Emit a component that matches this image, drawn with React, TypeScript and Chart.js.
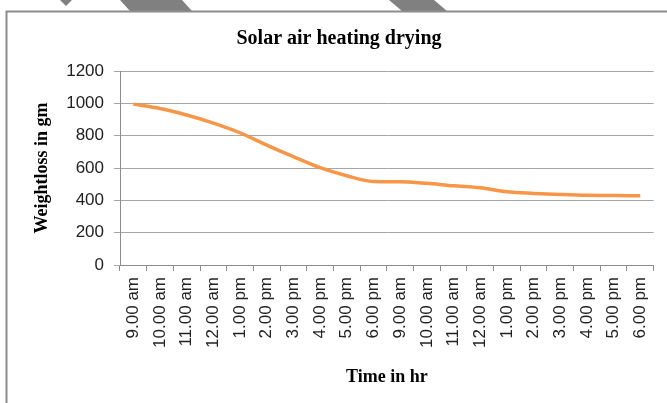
import React, { useEffect, useRef } from "react";
import { Chart, registerables } from "chart.js";

Chart.register(...registerables);

const categories = [
  "9.00 am", "10.00 am", "11.00 am", "12.00 am", "1.00 pm", "2.00 pm", "3.00 pm", "4.00 pm", "5.00 pm", "6.00 pm",
  "9.00 am", "10.00 am", "11.00 am", "12.00 am", "1.00 pm", "2.00 pm", "3.00 pm", "4.00 pm", "5.00 pm", "6.00 pm",
];
const weightLoss = [995, 968, 928, 878, 818, 742, 670, 602, 552, 517, 515, 505, 490, 478, 453, 443, 436, 431, 430, 428];
const yTicks = { min: 0, max: 1200, step: 200 };
const chartTitle = "Solar air heating drying";
const yTitle = "Weightloss in gm";
const xTitle = "Time in hr";

const framePlugin = {
  id: "frame",
  beforeDraw(chart: any) {
    const ctx = chart.ctx;
    ctx.save();
    ctx.fillStyle = "#ffffff";
    ctx.fillRect(0, 0, chart.width, chart.height);
    ctx.fillStyle = "#808080";
    ctx.beginPath();
    ctx.moveTo(60, 0); ctx.lineTo(72, 0); ctx.lineTo(66, 6); ctx.closePath(); ctx.fill();
    ctx.beginPath();
    ctx.moveTo(120, 0); ctx.lineTo(182, 0); ctx.lineTo(192, 11); ctx.lineTo(130, 11); ctx.closePath(); ctx.fill();
    ctx.beginPath();
    ctx.moveTo(389, 0); ctx.lineTo(434, 0); ctx.lineTo(447, 11); ctx.lineTo(402, 11); ctx.closePath(); ctx.fill();
    ctx.strokeStyle = "#8c8c8c";
    ctx.lineWidth = 2;
    ctx.beginPath();
    ctx.moveTo(6.5, chart.height);
    ctx.lineTo(6.5, 11.5);
    ctx.lineTo(chart.width, 11.5);
    ctx.stroke();
    ctx.restore();
  },
  afterDraw(chart: any) {
    const ctx = chart.ctx;
    ctx.save();
    ctx.fillStyle = "#000000";
    ctx.font = "bold 20px 'Liberation Serif'";
    ctx.textAlign = "center";
    ctx.textBaseline = "middle";
    ctx.fillText(chartTitle, 339, 39);
    ctx.restore();
  },
};

export default function App() {
  const ref = useRef<HTMLCanvasElement>(null);
  useEffect(() => {
    if (!ref.current) return;
    const chart = new Chart(ref.current, {
      type: "line",
      data: {
        labels: categories,
        datasets: [
          {
            data: weightLoss,
            borderColor: "#F79646",
            borderWidth: 3.5,
            pointRadius: 0,
            cubicInterpolationMode: "monotone",
            fill: false,
          },
        ],
      },
      options: {
        responsive: false,
        animation: false,
        layout: { padding: { left: 30, right: 13, top: 71, bottom: 10 } },
        plugins: { legend: { display: false }, title: { display: false }, tooltip: { enabled: false } },
        scales: {
          x: {
            type: "category",
            offset: true,
            afterFit(scale: any) { scale.height = 128; },
            grid: { display: true, offset: true, drawOnChartArea: false, drawTicks: true, tickLength: 6, color: "#8c8c8c" },
            border: { display: true, color: "#8c8c8c", width: 1 },
            ticks: {
              autoSkip: false,
              minRotation: 90,
              maxRotation: 90,
              padding: 6,
              color: "#222",
              font: { family: "'Liberation Sans'", size: 17 },
            },
            title: {
              display: true,
              text: xTitle,
              color: "#000",
              font: { family: "'Liberation Serif'", size: 18, weight: "bold" },
              padding: { top: 0, bottom: 5 },
            },
          },
          y: {
            min: yTicks.min,
            max: yTicks.max,
            afterFit(scale: any) { scale.width = 90; },
            grid: { color: "#a6a6a6", tickLength: 6, drawTicks: true },
            border: { display: true, color: "#8c8c8c", width: 1 },
            ticks: {
              stepSize: yTicks.step,
              padding: 10,
              color: "#222",
              font: { family: "'Liberation Sans'", size: 17 },
              callback: (v: any) => String(v),
            },
            title: {
              display: true,
              text: yTitle,
              color: "#000",
              font: { family: "'Liberation Serif'", size: 18, weight: "bold" },
              padding: { top: 2, bottom: 0 },
            },
          },
        },
      },
      plugins: [framePlugin],
    });
    return () => chart.destroy();
  }, []);
  return (
    <div style={{ position: "fixed", left: 0, top: 0, width: 667, height: 403 }}>
      <canvas ref={ref} width={667} height={403} />
    </div>
  );
}
